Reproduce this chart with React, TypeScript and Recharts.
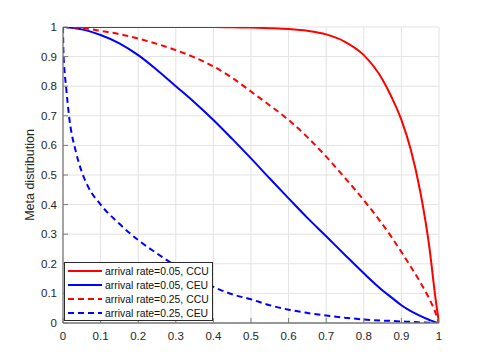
import React from 'react';
import { LineChart, Line, XAxis, YAxis, CartesianGrid, Legend } from 'recharts';

const FONT = '"Liberation Sans", Arial, Helvetica, sans-serif';

const xValues = [0, 0.001, 0.003, 0.008, 0.017, 0.035, 0.05, 0.067, 0.1, 0.15, 0.2, 0.25, 0.3, 0.35, 0.4, 0.45, 0.5, 0.55, 0.6, 0.65, 0.7, 0.75, 0.8, 0.85, 0.875, 0.9, 0.925, 0.95, 0.975, 0.99, 1];
const rate005CCU = [1, 1, 1, 1, 1, 1, 1, 1, 1, 1, 1, 1, 1, 1, 1, 0.999, 0.998, 0.996, 0.993, 0.987, 0.975, 0.95, 0.905, 0.822, 0.76, 0.686, 0.585, 0.445, 0.25, 0.09, 0];
const rate005CEU = [1, 1, 1, 0.9995, 0.998, 0.995, 0.992, 0.987, 0.973, 0.945, 0.905, 0.855, 0.8, 0.745, 0.686, 0.622, 0.556, 0.488, 0.421, 0.355, 0.293, 0.23, 0.168, 0.11, 0.085, 0.06, 0.04, 0.024, 0.01, 0.003, 0];
const rate025CCU = [1, 1, 1, 1, 0.999, 0.998, 0.996, 0.994, 0.987, 0.976, 0.961, 0.943, 0.922, 0.897, 0.867, 0.828, 0.782, 0.735, 0.686, 0.628, 0.562, 0.49, 0.415, 0.333, 0.288, 0.24, 0.19, 0.138, 0.08, 0.037, 0];
const rate025CEU = [1, 0.92, 0.87, 0.8, 0.69, 0.575, 0.51, 0.46, 0.4, 0.335, 0.28, 0.235, 0.193, 0.155, 0.122, 0.097, 0.08, 0.06, 0.045, 0.034, 0.025, 0.018, 0.012, 0.008, 0.007, 0.005, 0.004, 0.002, 0.001, 0.0005, 0];

const xTicks = [0, 0.1, 0.2, 0.3, 0.4, 0.5, 0.6, 0.7, 0.8, 0.9, 1];
const yTicks = [0, 0.1, 0.2, 0.3, 0.4, 0.5, 0.6, 0.7, 0.8, 0.9, 1];

const seriesNames = ['arrival rate=0.05, CCU', 'arrival rate=0.05, CEU', 'arrival rate=0.25, CCU', 'arrival rate=0.25, CEU'];
const seriesKeys = ['a', 'b', 'c', 'd'];
const seriesColors = ['#ff0000', '#0000ff', '#ff0000', '#0000ff'];
const seriesDash = ['', '', '6 4', '6 4'];

const data = xValues.map((x, i) => ({
  x,
  a: rate005CCU[i],
  b: rate005CEU[i],
  c: rate025CCU[i],
  d: rate025CEU[i],
}));

const AXIS = '#7a7a7a';
const TICKTXT = '#262626';

const LegendBox = () => (
  <div
    style={{
      boxSizing: 'border-box',
      width: 149,
      height: 59,
      border: '1px solid #2b2b2b',
      background: '#fff',
      padding: '1px 0',
      fontFamily: FONT,
      fontSize: 10.4,
      color: '#111',
    }}
  >
    {seriesNames.map((n, i) => (
      <div key={n} style={{ display: 'flex', alignItems: 'center', height: 14, whiteSpace: 'nowrap' }}>
        <svg width={40} height={14} style={{ display: 'block', flex: 'none' }}>
          <line x1={3} x2={37} y1={7} y2={7} stroke={seriesColors[i]} strokeWidth={2} strokeDasharray={seriesDash[i] || undefined} />
        </svg>
        <span>{n}</span>
      </div>
    ))}
  </div>
);

export default function App() {
  return (
    <div style={{ position: 'absolute', left: 0, top: 0, background: '#fff' }}>
      <LineChart width={485} height={363} data={data} margin={{ top: 27, right: 46, bottom: 0, left: 0 }}>
        <CartesianGrid stroke="#e3e3e3" strokeWidth={1} />
        <XAxis
          dataKey="x"
          type="number"
          domain={[0, 1]}
          ticks={xTicks}
          interval={0}
          height={40}
          tickSize={-5}
          tickMargin={14}
          axisLine={{ stroke: AXIS, strokeWidth: 1.3 }}
          tickLine={{ stroke: AXIS }}
          tick={{ fontSize: 11.5, fill: TICKTXT, fontFamily: FONT }}
          tickFormatter={(v: number) => String(v)}
          allowDataOverflow
        />
        <XAxis
          xAxisId="top"
          orientation="top"
          dataKey="x"
          type="number"
          domain={[0, 1]}
          ticks={xTicks}
          interval={0}
          height={0}
          tickSize={-5}
          axisLine={{ stroke: AXIS, strokeWidth: 1.3 }}
          tickLine={{ stroke: AXIS }}
          tickFormatter={() => ''}
          allowDataOverflow
        />
        <YAxis
          type="number"
          domain={[0, 1]}
          ticks={yTicks}
          interval={0}
          width={63}
          tickSize={-5}
          tickMargin={11}
          axisLine={{ stroke: AXIS, strokeWidth: 1.3 }}
          tickLine={{ stroke: AXIS }}
          tick={{ fontSize: 11.5, fill: TICKTXT, fontFamily: FONT }}
          tickFormatter={(v: number) => String(v)}
          allowDataOverflow
          label={{ value: 'Meta distribution', angle: -90, position: 'center', dx: -1.5, style: { fontSize: 12.5, fill: TICKTXT, fontFamily: FONT } }}
        />
        <YAxis
          yAxisId="right"
          orientation="right"
          type="number"
          domain={[0, 1]}
          ticks={yTicks}
          interval={0}
          width={0}
          tickSize={-5}
          axisLine={{ stroke: AXIS, strokeWidth: 1.3 }}
          tickLine={{ stroke: AXIS }}
          tickFormatter={() => ''}
          allowDataOverflow
        />
        {seriesKeys.map((k, i) => (
          <Line
            key={k}
            dataKey={k}
            name={seriesNames[i]}
            type="monotone"
            stroke={seriesColors[i]}
            strokeWidth={2}
            strokeDasharray={seriesDash[i] || undefined}
            dot={false}
            activeDot={false}
            isAnimationActive={false}
          />
        ))}
        <Legend
          layout="vertical"
          align="center"
          verticalAlign="middle"
          content={() => <LegendBox />}
          wrapperStyle={{ position: 'absolute', left: 64, top: 262, width: 149, height: 59 }}
        />
      </LineChart>
    </div>
  );
}
